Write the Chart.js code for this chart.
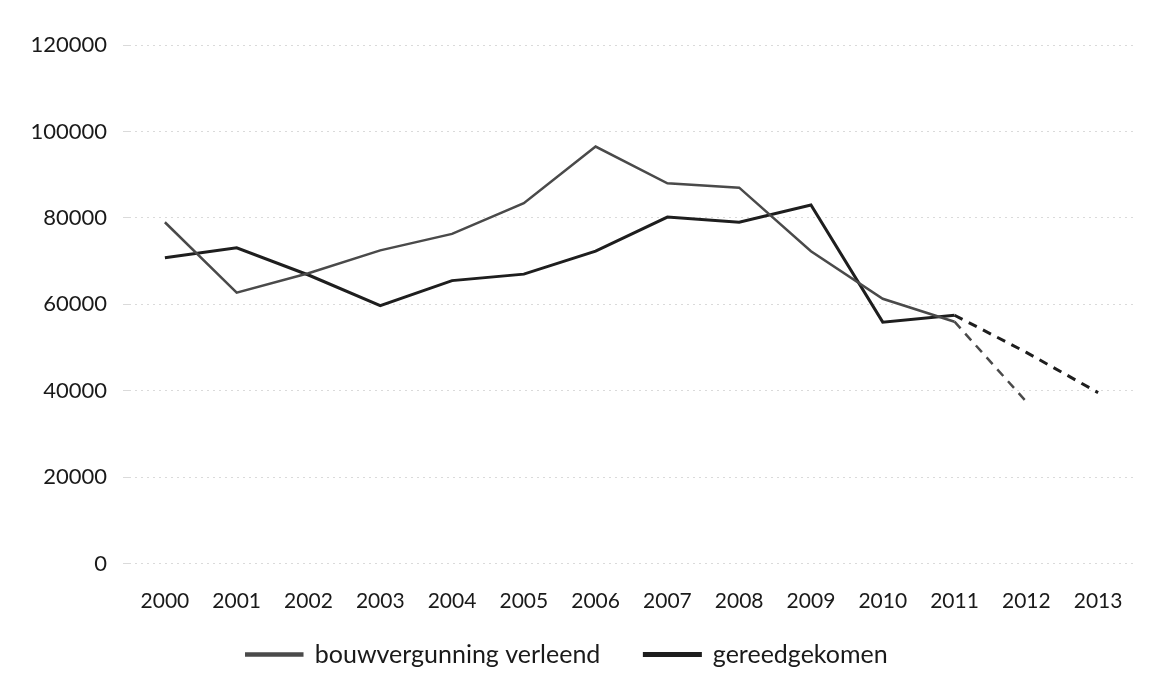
<!DOCTYPE html>
<html lang="nl">
<head>
<meta charset="UTF-8">
<title>Woningbouw 2000-2013</title>
<script src="https://cdn.jsdelivr.net/npm/chart.js@4.4.0/dist/chart.umd.min.js"></script>
<style>
    body { margin: 0; background: #fff; }
    #wrap { width: 1160px; height: 689px; }
</style>
</head>
<body>
<div id="wrap"><canvas id="myChart" width="1160" height="689"></canvas></div>
<script>
    const years = ['2000', '2001', '2002', '2003', '2004', '2005', '2006',
                   '2007', '2008', '2009', '2010', '2011', '2012', '2013'];
    // building permits issued
    const verleend = [79000, 62700, 67200, 72500, 76300, 83400, 96500,
                      88000, 87000, 72300, 61300, 56000, 37500, null];
    // dwellings completed
    const gereed = [70800, 73100, 66800, 59700, 65500, 67000, 72300,
                    80200, 79000, 83000, 55900, 57500, 48900, 39600];
    // index from which the lines turn into dashes (forecast part)
    const dashFrom = 11;

    const dashed = ctx => ctx.p0DataIndex >= dashFrom ? [9, 7] : undefined;

    // legend padding is also the gap between items; keep the wide gap
    // but take the extra height back and draw the row a bit higher
    const legendTrim = 21;
    const legendLift = 33;
    const legendGap = {
        id: 'legendGap',
        beforeLayout(chart) {
            const lg = chart.legend;
            if (!lg || lg._trimmed) return;
            const fit = lg.fit;
            lg.fit = function () {
                fit.call(this);
                this.height -= legendTrim;
            };
            lg._trimmed = true;
        },
        afterLayout(chart) {
            chart.legend.top -= legendLift;
        }
    };

    const ctx = document.getElementById('myChart').getContext('2d');
    const textFont = { family: 'Lato', size: 21 };

    new Chart(ctx, {
        type: 'line',
        data: {
            labels: years,
            datasets: [
                {
                    label: 'bouwvergunning verleend',
                    data: verleend,
                    borderColor: '#4a4a4a',
                    backgroundColor: '#4a4a4a',
                    borderWidth: 2.5,
                    pointRadius: 0,
                    tension: 0,
                    segment: { borderDash: dashed }
                },
                {
                    label: 'gereedgekomen',
                    data: gereed,
                    borderColor: '#1e1e1e',
                    backgroundColor: '#1e1e1e',
                    borderWidth: 3,
                    pointRadius: 0,
                    tension: 0,
                    segment: { borderDash: dashed }
                }
            ]
        },
        options: {
            responsive: false,
            animation: false,
            layout: { padding: { top: 45, right: 26, bottom: 0, left: 0 } },
            scales: {
                x: {
                    offset: true,
                    grid: { display: false },
                    border: { display: false },
                    ticks: { color: '#1a1a1a', font: textFont, padding: 17 }
                },
                y: {
                    min: 0,
                    max: 120000,
                    afterFit: s => { s.width = 129; },
                    grid: { color: '#dadada', lineWidth: 1, tickLength: 6 },
                    border: { display: false, dash: [2, 4] },
                    ticks: {
                        stepSize: 20000,
                        color: '#1a1a1a',
                        font: { family: 'Lato', size: 22 },
                        padding: 16,
                        callback: v => String(v)
                    }
                }
            },
            plugins: {
                legend: {
                    position: 'bottom',
                    labels: {
                        color: '#1a1a1a',
                        font: { family: 'Lato', size: 25 },
                        boxWidth: 56,
                        boxHeight: 2,
                        padding: 44
                    }
                },
                tooltip: { enabled: false }
            }
        },
        plugins: [legendGap]
    });
</script>
</body>
</html>
